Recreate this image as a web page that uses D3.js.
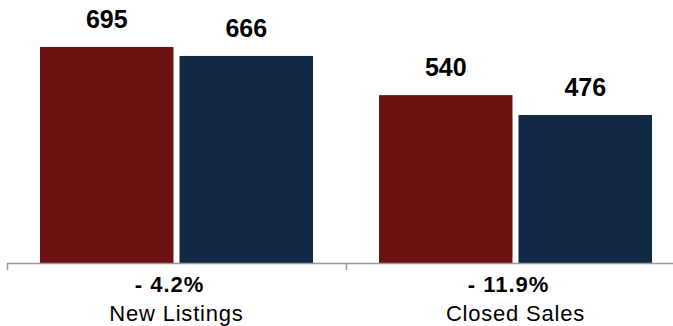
<!DOCTYPE html>
<html lang="en">
<head>
	<meta charset="UTF-8"/>
	<title>New Listings and Closed Sales</title>
	<script src="https://d3js.org/d3.v7.min.js"></script>
	<style>
		body {
			margin: 0;
			padding: 0;
			background-color: #FFFFFF;
			font-family: "Liberation Sans", Arial, sans-serif;
		}
		svg { display: block; }
	</style>
</head>
<body>
	<div id="chart"></div>
	<script>
		// chart data
		var categories = ["New Listings", "Closed Sales"];
		var series = ["Prior Year", "Current Year"];
		var priorValues = [695, 540];
		var currentValues = [666, 476];
		var changeLabels = ["- 4.2%", "- 11.9%"];
		var colors = ["#6d1113", "#122945"];

		var w = 673;
		var h = 326;
		var baseY = 263;   // where the axis sits
		var groupPad = 33;

		var svg = d3.select("#chart")
			.append("svg")
			.attr("width", w)
			.attr("height", h);

		// Outer scale for the categories
		var x0 = d3.scaleBand()
			.domain(categories)
			.range([7, 685])
			.paddingInner(0)
			.paddingOuter(0);

		// Inner scale for the two bars of one category
		var x1 = d3.scaleBand()
			.domain(series)
			.range([0, x0.bandwidth() - 2 * groupPad])
			.paddingInner(0.043);

		var yScale = d3.scaleLinear()
			.domain([0, 846])
			.range([baseY, 0]);

		var rows = categories.map(function(c, i) {
			return {
				cat: c,
				change: changeLabels[i],
				values: [
					{ s: series[0], v: priorValues[i] },
					{ s: series[1], v: currentValues[i] }
				]
			};
		});

		var groups = svg.selectAll("g.group")
			.data(rows)
			.enter()
			.append("g")
			.attr("class", "group")
			.attr("transform", function(d) {
				return "translate(" + (x0(d.cat) + groupPad) + ",0)";
			});

		// bars
		groups.selectAll("rect")
			.data(function(d) { return d.values; })
			.enter()
			.append("rect")
			.attr("x", function(d) { return x1(d.s); })
			.attr("y", function(d) { return yScale(d.v); })
			.attr("width", x1.bandwidth())
			.attr("height", function(d) { return baseY - yScale(d.v); })
			.attr("fill", function(d, i) { return colors[i]; });

		// value labels above the bars
		groups.selectAll("text.val")
			.data(function(d) { return d.values; })
			.enter()
			.append("text")
			.attr("class", "val")
			.attr("x", function(d) { return x1(d.s) + x1.bandwidth() / 2; })
			.attr("y", function(d) { return yScale(d.v) - 19; })
			.attr("text-anchor", "middle")
			.attr("font-size", "25px")
			.attr("font-weight", "bold")
			.attr("fill", "#000")
			.text(function(d) { return d.v; });

		// x axis, ticks between the groups
		var xAxis = d3.axisBottom(x0)
			.tickSize(0)
			.tickFormat("");
		var axisG = svg.append("g")
			.attr("transform", "translate(0," + baseY + ")")
			.call(xAxis);
		axisG.select(".domain").remove();
		axisG.append("line")
			.attr("x1", x0.range()[0])
			.attr("x2", w)
			.attr("y1", 0.5)
			.attr("y2", 0.5)
			.attr("stroke", "#999")
			.attr("stroke-width", 1.5);
		axisG.selectAll("line.sep")
			.data(categories)
			.enter()
			.append("line")
			.attr("class", "sep")
			.attr("x1", function(d) { return x0(d) + 0.5; })
			.attr("x2", function(d) { return x0(d) + 0.5; })
			.attr("y1", 0)
			.attr("y2", 7)
			.attr("stroke", "#999")
			.attr("stroke-width", 1.5);

		// percent change labels
		svg.selectAll("text.chg")
			.data(rows)
			.enter()
			.append("text")
			.attr("class", "chg")
			.attr("x", function(d) { return x0(d.cat) + x0.bandwidth() / 2 - 7; })
			.attr("y", 292)
			.attr("text-anchor", "middle")
			.attr("font-size", "22px")
			.attr("font-weight", "bold")
			.attr("letter-spacing", "1px")
			.attr("fill", "#000")
			.text(function(d) { return d.change; });

		// category names
		svg.selectAll("text.cat")
			.data(rows)
			.enter()
			.append("text")
			.attr("class", "cat")
			.attr("x", function(d) { return x0(d.cat) + x0.bandwidth() / 2; })
			.attr("y", 321)
			.attr("text-anchor", "middle")
			.attr("font-size", "22px")
			.attr("letter-spacing", "0.8px")
			.attr("fill", "#000")
			.text(function(d) { return d.cat; });
	</script>
</body>
</html>
